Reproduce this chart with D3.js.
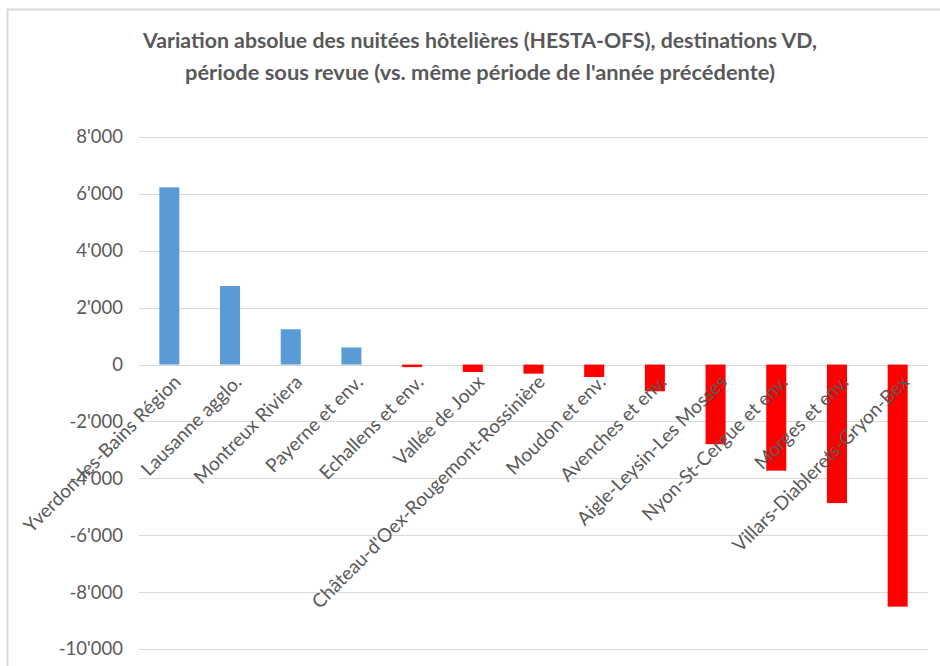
<!DOCTYPE html>
<html>
<head>
<meta charset="utf-8">
<script src="https://cdn.jsdelivr.net/npm/d3@7"></script>
<style>
  body { margin: 0; background: #fff; }
  text { font-family: Lato, "Open Sans", sans-serif; fill: #595959; }
</style>
</head>
<body>
<div id="chart"></div>
<script>
const categories = [
    "Yverdon-les-Bains Région", "Lausanne agglo.", "Montreux Riviera", "Payerne et env.",
    "Echallens et env.", "Vallée de Joux", "Château-d'Oex-Rougemont-Rossinière",
    "Moudon et env.", "Avenches et env.", "Aigle-Leysin-Les Mosses",
    "Nyon-St-Cergue et env.", "Morges et env.", "Villars-Diablerets-Gryon-Bex"
];
const values = [6230, 2760, 1240, 600, -90, -260, -320, -440, -940, -2800, -3730, -4870, -8510];
const yTicks = [8000, 6000, 4000, 2000, 0, -2000, -4000, -6000, -8000, -10000];
const titleLines = [
    "Variation absolue des nuitées hôtelières (HESTA-OFS), destinations VD,",
    "période sous revue (vs. même période de l'année précédente)"
];

const data = categories.map((c, i) => ({ name: c, value: values[i] }));

const width = 940;
const height = 666;
const margin = { top: 137, right: 12, bottom: 17, left: 139 };

const svg = d3.select("#chart")
    .append("svg")
    .attr("width", width)
    .attr("height", height)

// chart area border
svg.append("rect")
    .attr("x", 7.5)
    .attr("y", 9.5)
    .attr("width", 1000)
    .attr("height", 1000)
    .attr("fill", "none")
    .attr("stroke", "#d9d9d9")
    .attr("stroke-width", 2)

const title = svg.append("g").attr("class", "title")
title.selectAll("text")
    .data(titleLines)
    .enter()
    .append("text")
    .attr("x", 480)
    .attr("y", (d, i) => 48 + i * 32)
    .attr("text-anchor", "middle")
    .attr("font-size", 20)
    .attr("font-weight", "bold")
    .attr("textLength", (d, i) => i === 0 ? 674 : 590)
    .attr("lengthAdjust", "spacingAndGlyphs")
    .text(d => d)

const xScale = d3.scaleBand()
    .domain(categories)
    .range([margin.left, width - margin.right])
    .paddingInner(0.67)
    .paddingOuter(0.335)

const yScale = d3.scaleLinear()
    .domain([-10000, 8000])
    .range([height - margin.bottom, margin.top])

// swiss style thousands, plain hyphen for negatives
const fmt = d => d3.format(",")(d).replace(/,/g, "'").replace("\u2212", "-")

// gridlines
svg.append("g")
    .attr("class", "grid")
    .selectAll("line")
    .data(yTicks)
    .enter()
    .append("line")
    .attr("x1", margin.left)
    .attr("x2", width - margin.right)
    .attr("y1", d => Math.round(yScale(d)) + 0.5)
    .attr("y2", d => Math.round(yScale(d)) + 0.5)
    .attr("stroke", "#d9d9d9")
    .attr("stroke-width", 1.2)

const yAxis = d3.axisLeft(yScale)
    .tickValues(yTicks)
    .tickFormat(fmt)
    .tickSize(0)
    .tickPadding(16)

svg.append("g")
    .attr("class", "axis y-axis")
    .attr("transform", `translate(${margin.left},0)`)
    .call(yAxis)
    .call(g => g.select(".domain").remove())
    .selectAll("text")
    .attr("font-size", 18.5)
    .style("font-family", "Lato, sans-serif")
    .attr("fill", "#595959")

// bars
svg.append("g")
    .selectAll("rect")
    .data(data)
    .enter()
    .append("rect")
    .attr("x", d => xScale(d.name))
    .attr("width", xScale.bandwidth())
    .attr("y", d => yScale(Math.max(0, d.value)))
    .attr("height", d => Math.abs(yScale(d.value) - yScale(0)))
    .attr("fill", d => d.value >= 0 ? "#5b9bd5" : "#ff0000")

// category labels, rotated
svg.append("g")
    .attr("class", "x-labels")
    .selectAll("text")
    .data(data)
    .enter()
    .append("text")
    .attr("transform", d => `translate(${xScale(d.name) + xScale.bandwidth() / 2 + 3},${yScale(0) + 9}) rotate(-45)`)
    .attr("text-anchor", "end")
    .attr("dy", "0.72em")
    .attr("font-size", 19)
    .text(d => d.name)
</script>
</body>
</html>
